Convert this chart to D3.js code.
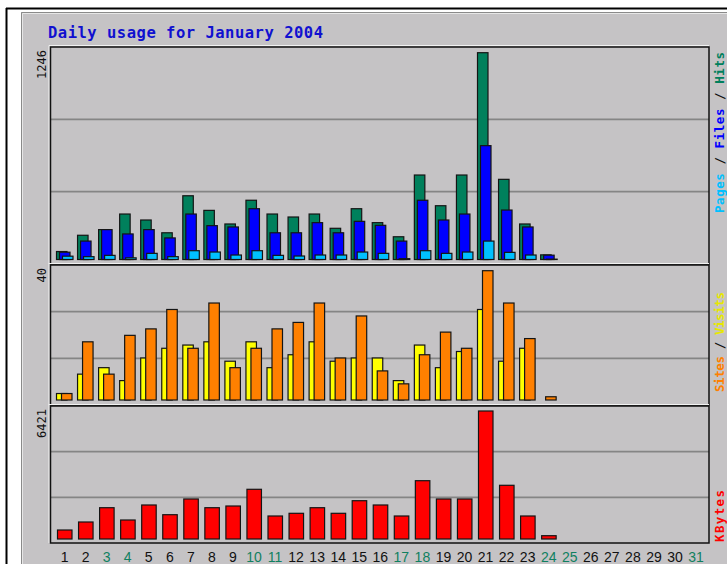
<!DOCTYPE html>
<html><head><meta charset="utf-8">
<script src="https://cdn.jsdelivr.net/npm/d3@7"></script>
<style>html,body{margin:0;padding:0;background:#fff;overflow:hidden}</style>
</head><body>
<svg id="c" width="727" height="564"></svg>
<script>
const title = "Daily usage for January 2004";
const dayLabels = ["1","2","3","4","5","6","7","8","9","10","11","12","13","14","15","16","17","18","19","20","21","22","23","24","25","26","27","28","29","30","31"];
const weekendDays = ["3","4","10","11","17","18","24","25","31"];
const hits   = [48,146,180,274,238,161,384,296,214,357,274,256,274,188,306,222,137,509,324,509,1246,483,214,28];
const files  = [44,111,180,154,180,130,274,204,196,306,161,161,222,161,230,206,111,357,238,274,686,298,196,26];
const pages  = [20,17,25,10,37,17,53,45,27,53,25,21,27,27,45,37,5,53,37,45,111,43,27,2];
const visits = [2,8,10,6,13,16,17,18,12,18,10,14,18,12,13,13,6,17,10,15,28,12,16,0];
const sites  = [2,18,8,20,22,28,16,30,10,16,22,24,30,13,26,9,5,14,21,16,40,30,19,1];
const kbytes = [451,853,1570,953,1706,1219,2007,1570,1655,2493,1154,1289,1570,1289,1921,1706,1154,2925,2007,2007,6421,2694,1154,166];
const maxLabels = ["1246","40","6421"];

const C = {hits:"#00805c", files:"#0000ff", pages:"#00c0ff", visits:"#ffff00", sites:"#ff8000", kbytes:"#ff0000"};

const svg = d3.select("#c");

// outer page frame
svg.append("rect").attr("x",0).attr("y",0).attr("width",727).attr("height",564).attr("fill","#fff");
svg.append("line").attr("x1",6).attr("x2",727).attr("y1",8.5).attr("y2",8.5).attr("stroke","#000").attr("stroke-width",2);
svg.append("line").attr("x1",6.5).attr("x2",6.5).attr("y1",8).attr("y2",564).attr("stroke","#000").attr("stroke-width",2);

// grey image area
svg.append("rect").attr("x",21).attr("y",12).attr("width",720).attr("height",560).attr("fill","#c5c3c5");
svg.append("line").attr("x1",21.5).attr("x2",727).attr("y1",12.5).attr("y2",12.5).attr("stroke","#8a8a8a");
svg.append("line").attr("x1",21.5).attr("x2",21.5).attr("y1",12.5).attr("y2",564).attr("stroke","#8a8a8a");
svg.append("line").attr("x1",22.5).attr("x2",727).attr("y1",13.5).attr("y2",13.5).attr("stroke","#e6e6e6");
svg.append("line").attr("x1",22.5).attr("x2",22.5).attr("y1",13.5).attr("y2",564).attr("stroke","#e6e6e6");

// title
svg.append("text").attr("x",48).attr("y",37.5).text(title)
  .attr("font-family","DejaVu Sans Mono, monospace").attr("font-weight","bold").attr("font-size",15.5)
  .attr("fill","#1010d0").attr("textLength",275).attr("lengthAdjust","spacing");

const x = d3.scaleBand().domain(dayLabels).range([57.5, 57.5 + 31*21.05]).padding(0);

const panels = [
  {top:47, bottom:264, y: d3.scaleLinear().domain([0,1246]).range([259.5,52.7])},
  {top:265, bottom:405, y: d3.scaleLinear().domain([0,40]).range([400,270.7])},
  {top:406, bottom:543, y: d3.scaleLinear().domain([0,6421]).range([539,411])}
];
const L = 50.5, R = 709;

panels.forEach((p,i)=>{
  const h = p.bottom - p.top;
  [1,2].forEach(k=>{
    const gy = p.top + h*k/3;
    svg.append("line").attr("x1",L).attr("x2",R).attr("y1",gy).attr("y2",gy).attr("stroke","#858585").attr("stroke-width",1.6);
  });
  svg.append("line").attr("x1",L-1.5).attr("x2",R).attr("y1",p.top-1.5).attr("y2",p.top-1.5).attr("stroke","#f2f2f2").attr("stroke-width",1);
  svg.append("line").attr("x1",L-1.5).attr("x2",L-1.5).attr("y1",p.top-1.5).attr("y2",p.bottom).attr("stroke","#f2f2f2").attr("stroke-width",1);
  svg.append("rect").attr("x",L).attr("y",p.top).attr("width",R-L).attr("height",h)
    .attr("fill","none").attr("stroke","#111").attr("stroke-width",1.5);
  svg.append("text").attr("transform",`translate(45.5,${p.top+3}) rotate(-90)`)
    .attr("text-anchor","end").attr("font-family","DejaVu Sans Mono, monospace").attr("font-size",12)
    .attr("fill","#111").text(maxLabels[i]);
});

function bars(vals, panel, off, w, color){
  svg.append("g").selectAll("rect").data(vals).join("rect")
    .attr("x",(d,i)=>x(dayLabels[i]) + off)
    .attr("y",d=>panel.y(d))
    .attr("width",w)
    .attr("height",d=>panel.y(0)-panel.y(d))
    .attr("fill",color).attr("stroke","#141414").attr("stroke-width",1.2);
}
bars(hits, panels[0], -1, 10.5, C.hits);
bars(files, panels[0], 2, 10.5, C.files);
bars(pages, panels[0], 5, 10.5, C.pages);
bars(visits, panels[1], -1, 10.5, C.visits);
bars(sites, panels[1], 4, 10.5, C.sites);
bars(kbytes, panels[2], 0, 14.5, C.kbytes);

const ax = svg.append("g").attr("transform","translate(-3.5,562)")
  .call(d3.axisBottom(x).tickSize(0).tickPadding(0));
ax.select(".domain").remove();
ax.selectAll("text").attr("y",0).attr("dy",0)
  .attr("font-family","Liberation Sans, Arial, sans-serif").attr("font-size",14)
  .attr("fill",d=>weekendDays.includes(d) ? "#108060" : "#111");

function legend(parts, x0, y0, len){
  const t = svg.append("text").attr("transform",`translate(${x0},${y0}) rotate(-90)`)
    .attr("font-family","DejaVu Sans Mono, monospace").attr("font-weight","bold").attr("font-size",12.5)
    .attr("textLength",len).attr("lengthAdjust","spacing");
  parts.forEach(p=>t.append("tspan").attr("fill",p[1]).text(p[0]));
}
legend([["Pages",C.pages],[" / ","#111"],["Files",C.files],[" / ","#111"],["Hits",C.hits]], 723.5, 213, 161);
legend([["Sites",C.sites],[" / ","#111"],["Visits","#e8e800"]], 723.5, 392, 100);
legend([["KBytes",C.kbytes]], 723.5, 542, 52);
</script>
</body></html>
